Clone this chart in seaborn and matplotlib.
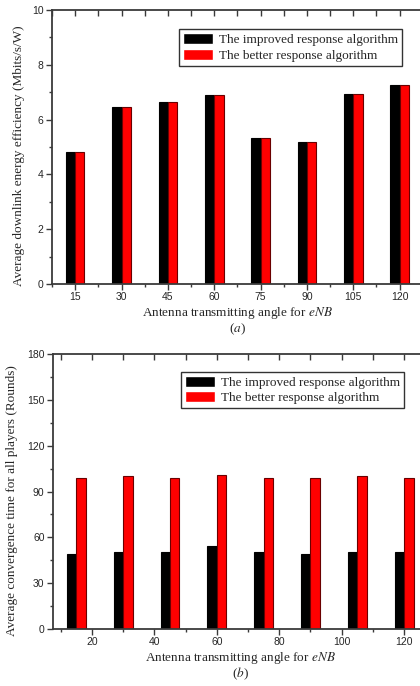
import pandas as pd
import seaborn as sns
import matplotlib.pyplot as plt
from matplotlib.ticker import MultipleLocator

# Data
angles = [15, 30, 45, 60, 75, 90, 105, 120]
series_names = ['The improved response algorithm', 'The better response algorithm']

# (a) average downlink energy efficiency (Mbits/s/W)
ee_improved = [4.83, 6.45, 6.63, 6.90, 5.33, 5.18, 6.92, 7.25]
ee_better = [4.83, 6.45, 6.63, 6.90, 5.33, 5.18, 6.92, 7.25]

# (b) average convergence time (Rounds)
conv_improved = [49, 50, 50, 54, 50, 49, 50, 50]
conv_better = [99, 100, 99, 101, 99, 99, 100, 99]

df_a = pd.DataFrame({
    'angle': angles * 2,
    'value': ee_improved + ee_better,
    'algo': [series_names[0]] * len(angles) + [series_names[1]] * len(angles),
})
df_b = pd.DataFrame({
    'angle': angles * 2,
    'value': conv_improved + conv_better,
    'algo': [series_names[0]] * len(angles) + [series_names[1]] * len(angles),
})

sns.set_style('ticks')
plt.rcParams['font.family'] = ['Liberation Serif', 'DejaVu Serif']
plt.rcParams['mathtext.fontset'] = 'stix'

fig = plt.figure(figsize=(4.2, 6.86), dpi=100)
ax_a = fig.add_axes([0.1238, 0.586, 0.883, 0.3994])
ax_b = fig.add_axes([0.126, 0.0835, 0.892, 0.400])

colors = ['#000000', '#ff0000']
edges = {'#000000': '#000000', '#ff0000': '#6a0000'}


def style_axes(ax, ylim, ymaj, ymin, xmaj, xmin, ylabel, ylab_x, caption):
    ax.set_xlim(7.5, 127.5)
    ax.set_ylim(*ylim)
    ax.yaxis.set_major_locator(MultipleLocator(ymaj))
    ax.yaxis.set_minor_locator(MultipleLocator(ymin))
    ax.xaxis.set_major_locator(MultipleLocator(xmaj))
    ax.xaxis.set_minor_locator(MultipleLocator(xmin))
    if xmaj == 15:
        ax.xaxis.set_major_locator(MultipleLocator(15, offset=0))
        ax.set_xticks(angles)
        ax.set_xticks([a + 7.5 for a in [0] + angles], minor=True)
    for s in ax.spines.values():
        s.set_visible(True)
        s.set_color('#3a3a3a')
        s.set_linewidth(1.3)
    ax.tick_params(which='both', top=True, right=True, color='#3a3a3a')
    ax.tick_params(axis='both', which='major', direction='out', length=4, width=1,
                   labelsize=7.5, pad=2)
    ax.tick_params(axis='both', which='minor', direction='out', length=2.5, width=1)
    for lab in ax.get_xticklabels() + ax.get_yticklabels():
        lab.set_family('Liberation Sans')
    ax.tick_params(axis='x', which='both', top=True)
    ax.tick_params(axis='y', which='minor', right=False)
    # top / right ticks point inwards
    for t in ax.xaxis.get_major_ticks() + ax.xaxis.get_minor_ticks():
        t.tick2line.set_marker(3)
        t.tick2line.set_markersize(4)
    for t in ax.yaxis.get_major_ticks():
        t.tick2line.set_marker(1)
        t.tick2line.set_markersize(4)
    ax.set_xlabel('Antenna transmitting angle for $\\it{eNB}$', fontsize=9.5, labelpad=2)
    ax.set_ylabel(ylabel, fontsize=9.5)
    ax.yaxis.set_label_coords(ylab_x, 0.467)
    ax.text(0.5, -0.165, caption, transform=ax.transAxes, ha='center', va='center',
            fontsize=9.5)
    for p in ax.patches:
        fc = '#%02x%02x%02x' % tuple(int(round(c * 255)) for c in p.get_facecolor()[:3])
        p.set_edgecolor(edges.get(fc, 'black'))
        p.set_linewidth(0.8)
    leg = ax.get_legend()
    handles = leg.legend_handles
    labels = [t.get_text() for t in leg.get_texts()]
    leg.remove()
    return handles, labels


sns.barplot(data=df_a, x='angle', y='value', hue='algo', native_scale=True,
            palette=colors, width=0.4, errorbar=None, saturation=1, ax=ax_a)
h, l = style_axes(ax_a, (0, 10), 2, 1, 15, 7.5,
                  'Average downlink energy efficiency (Mbits/s/W)', -0.073, '($\\it{a}$)')
fig.legend(h, l, loc='upper left', bbox_to_anchor=(0.426, 0.9577), borderaxespad=0,
           fontsize=9.5, frameon=True, fancybox=False, edgecolor='#333333',
           handlelength=2.3, handleheight=0.9, handletextpad=0.4, labelspacing=0.2,
           borderpad=0.3, framealpha=1)

sns.barplot(data=df_b, x='angle', y='value', hue='algo', native_scale=True,
            palette=colors, width=0.4, errorbar=None, saturation=1, ax=ax_b)
h, l = style_axes(ax_b, (0, 180), 30, 15, 20, 10,
                  'Average convergence time for all players (Rounds)', -0.094, '($\\it{b}$)')
fig.legend(h, l, loc='upper left', bbox_to_anchor=(0.431, 0.4582), borderaxespad=0,
           fontsize=9.5, frameon=True, fancybox=False, edgecolor='#333333',
           handlelength=2.3, handleheight=0.9, handletextpad=0.4, labelspacing=0.2,
           borderpad=0.3, framealpha=1)

fig.savefig('out.png', dpi=100)
